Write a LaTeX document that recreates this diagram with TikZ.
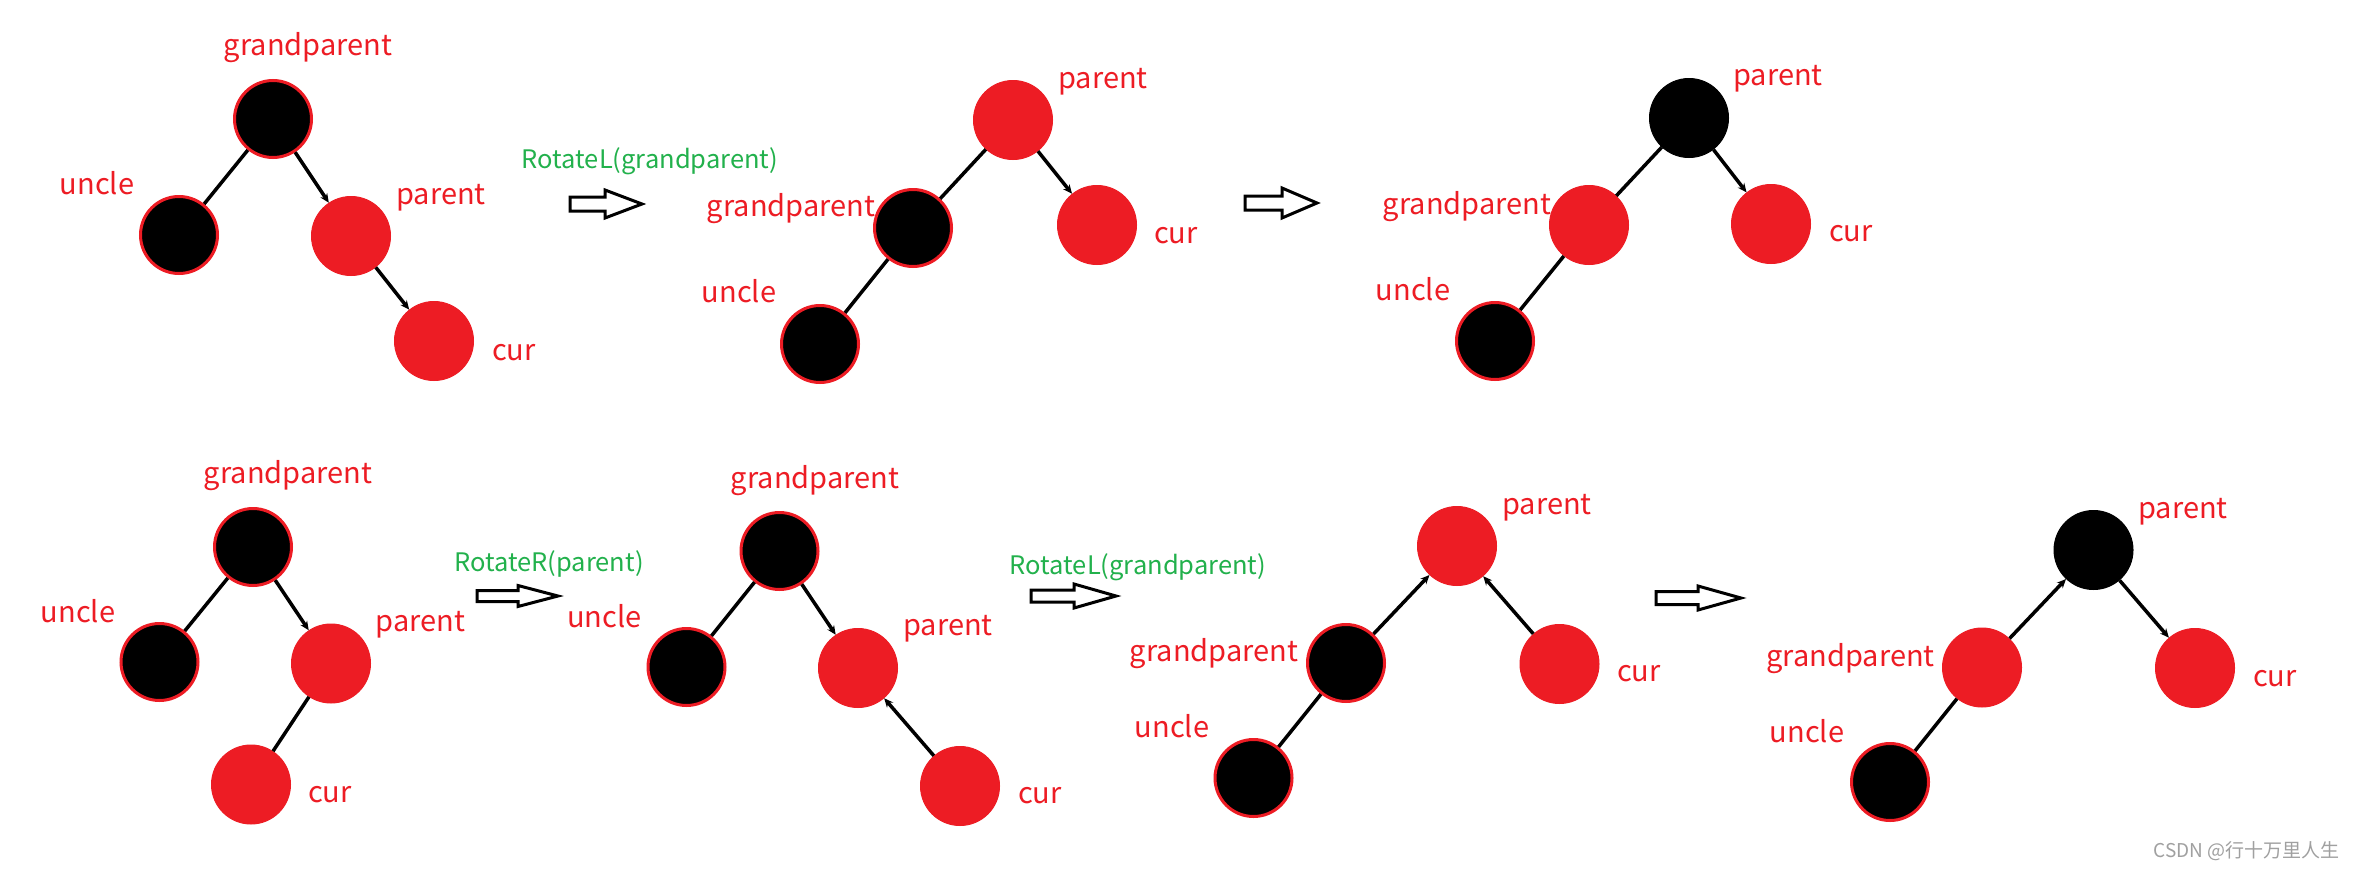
\documentclass[tikz,border=0pt]{standalone}
\usepackage{fontspec}
\setmainfont{Noto Sans CJK SC}
\usetikzlibrary{arrows.meta}
\definecolor{pred}{HTML}{ED1C24}
\definecolor{pgreen}{HTML}{22B14C}
\definecolor{wmgray}{HTML}{A0A0A0}
\newcommand\hollowarrow[6]{%
  \draw[hollow] (#1,#4-#5) -- (#2,#4-#5) -- (#2,#4-#6) -- (#3,#4) -- (#2,#4+#6) -- (#2,#4+#5) -- (#1,#4+#5) -- cycle;}
\begin{document}
\begin{tikzpicture}[x=1pt,y=-1pt,
  rb/.style={circle,fill=black,draw=pred,line width=3pt,minimum size=77pt,inner sep=0pt},
  bb/.style={circle,fill=black,draw=black,line width=1pt,minimum size=79pt,inner sep=0pt},
  rr/.style={circle,fill=pred,draw=pred,line width=1pt,minimum size=79pt,inner sep=0pt},
  lbl/.style={text=pred,font=\fontsize{29}{35}\selectfont,anchor=base,inner sep=0pt},
  glbl/.style={text=pgreen,font=\fontsize{25.5}{30}\selectfont,anchor=base,inner sep=0pt},
  edge/.style={line width=3.5pt,black},
  arr/.style={edge,-{Stealth[length=9pt,width=8pt]}},
  hollow/.style={line width=3pt,black,fill=white,line join=miter}]
\useasboundingbox[fill=white] (0,0) rectangle (2358,870);

% ---------- Tree A ----------
\node[rb] (Agp) at (273,119) {};
\node[rb] (Aun) at (179,235) {};
\node[rr] (Apa) at (351,236) {};
\node[rr] (Acu) at (434,341) {};
\draw[edge] (Agp) -- (Aun);
\draw[arr] (Agp) -- (Apa);
\draw[arr] (Apa) -- (Acu);
\node[lbl] (AgpL) at (308,55) {grandparent};
\node[lbl] (AunL) at (97,194) {uncle};
\node[lbl] (ApaL) at (441,204) {parent};
\node[lbl] (AcuL) at (514,360) {cur};
\node[glbl] (AB) at (650,168) {RotateL(grandparent)};
\hollowarrow{570}{605}{642}{204}{7}{14}

% ---------- Tree B ----------
\node[rr] (Bpa) at (1013,120) {};
\node[rb] (Bgp) at (913,228) {};
\node[rr] (Bcu) at (1097,225) {};
\node[rb] (Bun) at (820,344) {};
\draw[edge] (Bpa) -- (Bgp);
\draw[arr] (Bpa) -- (Bcu);
\draw[edge] (Bgp) -- (Bun);
\node[lbl] (BpaL) at (1103,88) {parent};
\node[lbl] (BgpL) at (791,216) {grandparent};
\node[lbl] (BcuL) at (1176,243) {cur};
\node[lbl] (BunL) at (739,302) {uncle};
\hollowarrow{1245}{1282}{1317}{203}{7}{15}

% ---------- Tree C ----------
\node[bb] (Cpa) at (1689,118) {};
\node[rr] (Cgp) at (1589,225) {};
\node[rr] (Ccu) at (1771,224) {};
\node[rb] (Cun) at (1495,341) {};
\draw[edge] (Cpa) -- (Cgp);
\draw[arr] (Cpa) -- (Ccu);
\draw[edge] (Cgp) -- (Cun);
\node[lbl] (CpaL) at (1778,85) {parent};
\node[lbl] (CgpL) at (1467,214) {grandparent};
\node[lbl] (CcuL) at (1851,241) {cur};
\node[lbl] (CunL) at (1413,300) {uncle};

% ---------- Tree D ----------
\node[rb] (Dgp) at (253,547) {};
\node[rb] (Dun) at (159.5,662) {};
\node[rr] (Dpa) at (331,663.5) {};
\node[rr] (Dcu) at (251,784.5) {};
\draw[edge] (Dgp) -- (Dun);
\draw[arr] (Dgp) -- (Dpa);
\draw[edge] (Dpa) -- (Dcu);
\node[lbl] (DgpL) at (288,483) {grandparent};
\node[lbl] (DunL) at (78,622) {uncle};
\node[lbl] (DpaL) at (420.5,631) {parent};
\node[lbl] (DcuL) at (330,802) {cur};
\node[glbl] (DE) at (549,571) {RotateR(parent)};
\hollowarrow{477}{518}{558}{596}{5.5}{10.5}

% ---------- Tree E ----------
\node[rb] (Egp) at (779.5,551) {};
\node[rb] (Eun) at (686.5,667) {};
\node[rr] (Epa) at (858,668) {};
\node[rr] (Ecu) at (960,786) {};
\draw[edge] (Egp) -- (Eun);
\draw[arr] (Egp) -- (Epa);
\draw[arr] (Ecu) -- (Epa);
\node[lbl] (EgpL) at (815,488) {grandparent};
\node[lbl] (EunL) at (604.5,627) {uncle};
\node[lbl] (EpaL) at (948,635) {parent};
\node[lbl] (EcuL) at (1040,803) {cur};
\node[glbl] (EF) at (1138,574) {RotateL(grandparent)};
\hollowarrow{1031}{1074}{1116}{596}{6}{12}

% ---------- Tree F ----------
\node[rr] (Fpa) at (1457,546) {};
\node[rb] (Fgp) at (1346,663) {};
\node[rr] (Fcu) at (1559.5,664) {};
\node[rb] (Fun) at (1253.5,778) {};
\draw[arr] (Fgp) -- (Fpa);
\draw[arr] (Fcu) -- (Fpa);
\draw[edge] (Fgp) -- (Fun);
\node[lbl] (FpaL) at (1547,514) {parent};
\node[lbl] (FgpL) at (1214,661) {grandparent};
\node[lbl] (FcuL) at (1639,681) {cur};
\node[lbl] (FunL) at (1172,737) {uncle};
\hollowarrow{1656}{1698}{1741}{598}{6.5}{12}

% ---------- Tree G ----------
\node[bb] (Gpa) at (2093.5,550) {};
\node[rr] (Ggp) at (1982,667.5) {};
\node[rr] (Gcu) at (2195,668) {};
\node[rb] (Gun) at (1890,782) {};
\draw[arr] (Ggp) -- (Gpa);
\draw[arr] (Gpa) -- (Gcu);
\draw[edge] (Ggp) -- (Gun);
\node[lbl] (GpaL) at (2183,518) {parent};
\node[lbl] (GgpL) at (1850.5,666) {grandparent};
\node[lbl] (GcuL) at (2275,686) {cur};
\node[lbl] (GunL) at (1807,742) {uncle};

\node[text=wmgray,font=\fontsize{19}{22}\selectfont,anchor=base east,inner sep=0pt] (wm) at (2340,857) {CSDN @行十万里人生};
\end{tikzpicture}
\end{document}
